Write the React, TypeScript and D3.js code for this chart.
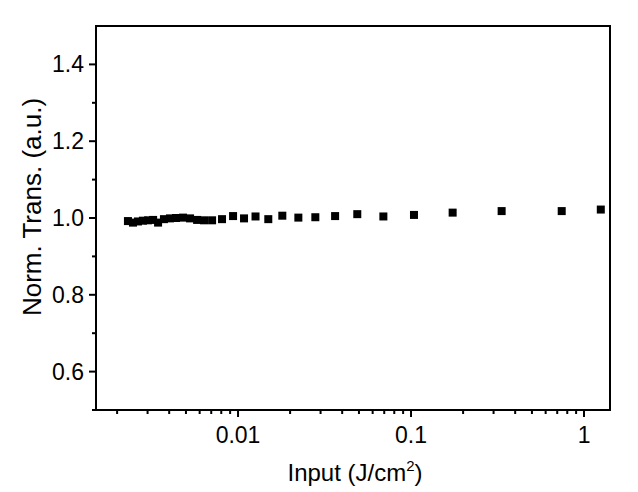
import React from "react";
import * as d3 from "d3";

const fluence = [
  0.00231, 0.00247, 0.00264, 0.00282, 0.00302, 0.00323, 0.00345, 0.00373,
  0.00404, 0.00438, 0.00481, 0.00528, 0.0058, 0.00636, 0.00708, 0.00808,
  0.00936, 0.01083, 0.01262, 0.01496, 0.01803, 0.02232, 0.02798, 0.0364,
  0.0489, 0.0692, 0.104, 0.174, 0.334, 0.743, 1.25,
];
const normTrans = [
  0.992, 0.988, 0.991, 0.993, 0.994, 0.995, 0.988, 0.997,
  0.999, 1.0, 1.001, 0.999, 0.995, 0.994, 0.994, 0.997,
  1.005, 0.999, 1.004, 0.997, 1.006, 1.001, 1.002, 1.005,
  1.01, 1.004, 1.008, 1.014, 1.018, 1.018, 1.022,
];
const xMajorTicks = [0.01, 0.1, 1];
const xTickLabels = ["0.01", "0.1", "1"];
const yMajorTicks = [0.6, 0.8, 1.0, 1.2, 1.4];
const yMinorTicks = [0.5, 0.7, 0.9, 1.1, 1.3];
const xTitle = "Input (J/cm";
const yTitle = "Norm. Trans. (a.u.)";

const W = 638;
const H = 492;
const M = { left: 96, right: 610, top: 26, bottom: 410 };
const FONT = "Liberation Sans, Arial, sans-serif";

export default function App() {
  const x = d3.scaleLog().domain([0.00151, 1.413]).range([M.left, M.right]);
  const y = d3.scaleLinear().domain([0.5, 1.5]).range([M.bottom, M.top]);

  const xMinor: number[] = [];
  [0.001, 0.01, 0.1].forEach((dec) => {
    for (let k = 2; k <= 9; k++) {
      const v = dec * k;
      if (v >= 0.00151 && v <= 1.413) xMinor.push(v);
    }
  });

  const pts = fluence.map((f, i) => ({ f, t: normTrans[i] }));
  const sz = 8;

  return (
    <svg
      width={W}
      height={H}
      style={{ position: "absolute", left: 0, top: 0, background: "#fff" }}
    >
      <rect x={0} y={0} width={W} height={H} fill="#fff" />
      {/* frame */}
      <rect
        x={M.left}
        y={M.top}
        width={M.right - M.left}
        height={M.bottom - M.top}
        fill="none"
        stroke="#000"
        strokeWidth={2}
      />
      {/* x ticks */}
      {xMajorTicks.map((t, i) => (
        <g key={"xm" + i}>
          <line x1={x(t)} x2={x(t)} y1={M.bottom} y2={M.bottom + 7} stroke="#000" strokeWidth={2} />
          <text x={x(t)} y={443} textAnchor="middle" fontFamily={FONT} fontSize={23} fill="#000">
            {xTickLabels[i]}
          </text>
        </g>
      ))}
      {xMinor.map((t, i) => (
        <line key={"xn" + i} x1={x(t)} x2={x(t)} y1={M.bottom} y2={M.bottom + 4} stroke="#000" strokeWidth={2} />
      ))}
      {/* y ticks */}
      {yMajorTicks.map((t, i) => (
        <g key={"ym" + i}>
          <line x1={M.left - 7} x2={M.left} y1={y(t)} y2={y(t)} stroke="#000" strokeWidth={2} />
          <text x={84} y={y(t)} dy="0.35em" textAnchor="end" fontFamily={FONT} fontSize={23} fill="#000">
            {d3.format(".1f")(t)}
          </text>
        </g>
      ))}
      {yMinorTicks.map((t, i) => (
        <line key={"yn" + i} x1={M.left - 4} x2={M.left} y1={y(t)} y2={y(t)} stroke="#000" strokeWidth={2} />
      ))}
      {/* data */}
      {pts.map((p, i) => (
        <rect key={"p" + i} x={x(p.f) - sz / 2} y={y(p.t) - sz / 2} width={sz} height={sz} fill="#000" />
      ))}
      {/* titles */}
      <text x={(M.left + M.right) / 2 + 2} y={481} textAnchor="middle" fontFamily={FONT} fontSize={24} fill="#000">
        {xTitle}
        <tspan fontSize={15} dy={-10}>2</tspan>
        <tspan dy={10}>)</tspan>
      </text>
      <text
        transform={`translate(41, 207) rotate(-90)`}
        textAnchor="middle"
        fontFamily={FONT}
        fontSize={26}
        fill="#000"
      >
        {yTitle}
      </text>
    </svg>
  );
}
